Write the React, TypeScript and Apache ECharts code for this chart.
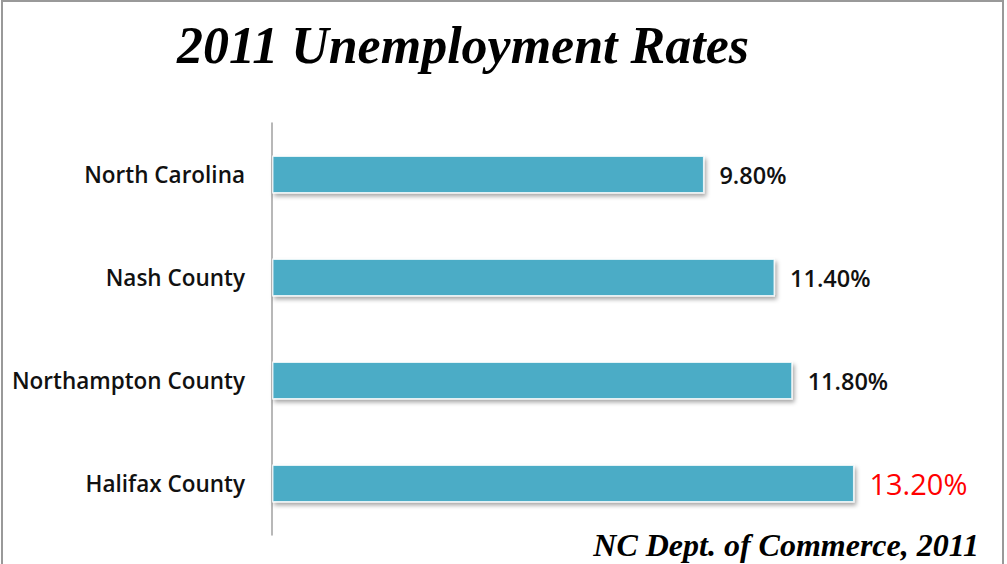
import React, { useEffect, useRef } from "react";
import * as echarts from "echarts";

const categories = ["North Carolina", "Nash County", "Northampton County", "Halifax County"];
const rates = [9.8, 11.4, 11.8, 13.2];
const highlightIndex = 3;
const titleText = "2011 Unemployment Rates";
const sourceText = "NC Dept. of Commerce, 2011";

export default function App() {
  const ref = useRef<HTMLDivElement>(null);
  useEffect(() => {
    if (!ref.current) return;
    const chart = echarts.init(ref.current, undefined, { renderer: "svg" });
    chart.setOption({
      animation: false,
      backgroundColor: "#ffffff",
      title: {
        text: titleText,
        left: 458,
        textAlign: "center",
        top: 14,
        textStyle: {
          fontFamily: "Liberation Serif",
          fontStyle: "italic",
          fontWeight: "bold",
          fontSize: 52,
          color: "#000",
        },
      },
      grid: { left: 272, top: 123, width: 706, height: 412, containLabel: false },
      xAxis: {
        type: "value",
        min: 0,
        max: 16,
        show: false,
      },
      yAxis: {
        type: "category",
        data: categories,
        inverse: true,
        axisLine: { show: true, lineStyle: { color: "#a0a0a0", width: 1.5 } },
        axisTick: { show: false },
        axisLabel: {
          margin: 27,
          fontFamily: "Open Sans",
          fontWeight: 600,
          fontSize: 22.5,
          color: "#111",
        },
      },
      series: [
        {
          type: "bar",
          barWidth: 38,
          data: rates.map((v, i) => ({
            value: v,
            label:
              i === highlightIndex
                ? { color: "#ff0000", fontSize: 29, fontWeight: "normal" }
                : undefined,
          })),
          itemStyle: {
            color: "#4BACC6",
            borderColor: "rgba(255,255,255,0.8)",
            borderWidth: 1.5,
            shadowColor: "rgba(0,0,0,0.35)",
            shadowBlur: 4,
            shadowOffsetX: 2,
            shadowOffsetY: 3,
          },
          label: {
            show: true,
            position: "right",
            distance: 15,
            formatter: (p: any) => p.value.toFixed(2) + "%",
            fontFamily: "Open Sans",
            fontWeight: 600,
            fontSize: 23.5,
            color: "#111",
          },
        },
      ],
      graphic: [
        {
          type: "rect",
          shape: { x: 2, y: 1, width: 1001, height: 620 },
          style: { fill: "none", stroke: "#999", lineWidth: 2 },
          silent: true,
        },
        {
          type: "text",
          right: 28,
          top: 529,
          style: {
            text: sourceText,
            fontFamily: "Liberation Serif",
            fontStyle: "italic",
            fontWeight: "bold",
            fontSize: 32,
            fill: "#000",
          },
        },
      ],
    });
    return () => chart.dispose();
  }, []);
  return (
    <div
      ref={ref}
      style={{ position: "absolute", left: 0, top: 0, width: 1007, height: 564 }}
    />
  );
}
